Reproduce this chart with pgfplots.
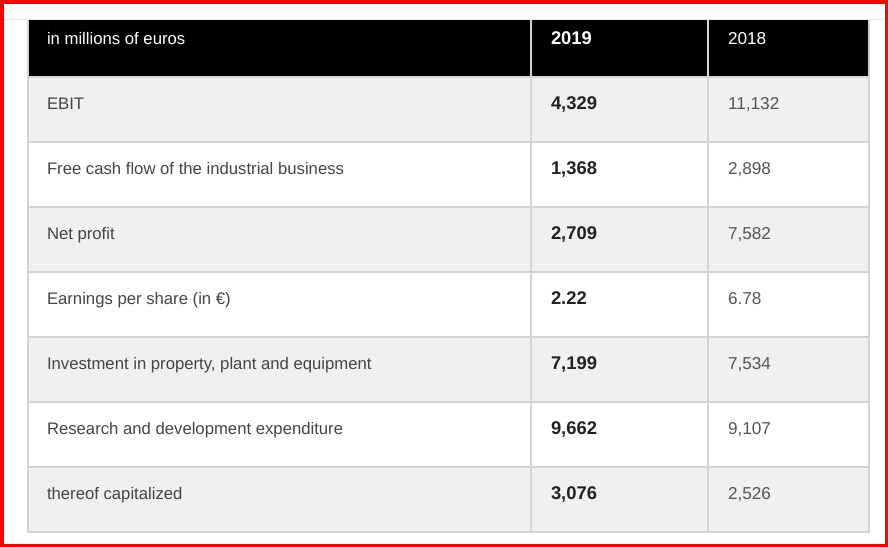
\documentclass[border=0pt]{standalone}
\usepackage{pgfplots}
\pgfplotsset{compat=1.18}
\usepackage{pgfplotstable}
\usepackage{fontspec}
\setmainfont{Liberation Sans}
\definecolor{rowgray}{HTML}{F0F0F0}
\definecolor{gridgray}{HTML}{D4D4D4}
\definecolor{labelgray}{HTML}{444444}
\definecolor{oldgray}{HTML}{555555}
\definecolor{numdark}{HTML}{222222}
\definecolor{topline}{HTML}{E6EAEF}
\definecolor{frame}{HTML}{FF0000}

% row baselines (pixel units from top), labels and values
\pgfplotstableread[col sep=semicolon]{
y;label;v2019;v2018
109;EBIT;4,329;11,132
174.2;Free cash flow of the industrial business;1,368;2,898
239.3;Net profit;2,709;7,582
304.4;Earnings per share (in €);2.22;6.78
369.5;Investment in property, plant and equipment;7,199;7,534
434.6;Research and development expenditure;9,662;9,107
499.7;thereof capitalized;3,076;2,526
}\bodytbl
\pgfplotstableread[col sep=semicolon]{
x;y;label
47;44;in millions of euros
}\headlabel
\pgfplotstableread[col sep=semicolon]{
x;y;label
551;44;2019
}\headA
\pgfplotstableread[col sep=semicolon]{
x;y;label
728;44;2018
}\headB

\begin{document}
\begin{tikzpicture}
\begin{axis}[
  width=888pt, height=547pt, scale only axis,
  xmin=0, xmax=888, ymin=0, ymax=547, y dir=reverse,
  hide axis, clip=false,
  nodes near coords align={anchor=base west},
  every node near coord/.append style={anchor=base west, inner sep=0pt, outer sep=0pt},
]
% frame and top line
\addplot[draw=topline, line width=1.5pt] coordinates {(3,19.5) (885,19.5)};
% header background
\addplot[fill=black, draw=none] coordinates {(28,20) (869,20) (869,76.5) (28,76.5)} -- cycle;
% shaded rows
\addplot[fill=rowgray, draw=none] coordinates {(28,76.5) (869,76.5) (869,141.7) (28,141.7)} -- cycle;
\addplot[fill=rowgray, draw=none] coordinates {(28,206.8) (869,206.8) (869,271.9) (28,271.9)} -- cycle;
\addplot[fill=rowgray, draw=none] coordinates {(28,337) (869,337) (869,402.1) (28,402.1)} -- cycle;
\addplot[fill=rowgray, draw=none] coordinates {(28,467.2) (869,467.2) (869,532.3) (28,532.3)} -- cycle;
% horizontal grid lines
\foreach \yy in {76.5,141.7,206.8,271.9,337,402.1,467.2,532.3}{
  \edef\tmp{\noexpand\addplot[draw=gridgray, line width=2pt, forget plot] coordinates {(27,\yy) (870,\yy)};}\tmp
}
% vertical grid lines
\foreach \xx in {28,531,708,869}{
  \edef\tmp{\noexpand\addplot[draw=gridgray, line width=2pt, forget plot] coordinates {(\xx,20) (\xx,533.3)};}\tmp
}
% header texts
\addplot[draw=none, mark=none, nodes near coords, point meta=explicit symbolic,
  every node near coord/.append style={text=white, font=\fontsize{16.7}{20}\selectfont}]
  table[x=x, y=y, meta=label] {\headlabel};
\addplot[draw=none, mark=none, nodes near coords, point meta=explicit symbolic,
  every node near coord/.append style={text=white, font=\fontsize{18.4}{22}\selectfont\bfseries}]
  table[x=x, y=y, meta=label] {\headA};
\addplot[draw=none, mark=none, nodes near coords, point meta=explicit symbolic,
  every node near coord/.append style={text=white, font=\fontsize{17.2}{20}\selectfont}]
  table[x=x, y=y, meta=label] {\headB};
% body texts
\addplot[draw=none, mark=none, nodes near coords, point meta=explicit symbolic,
  every node near coord/.append style={text=labelgray, font=\fontsize{16.7}{20}\selectfont}]
  table[x expr=47, y=y, meta=label] {\bodytbl};
\addplot[draw=none, mark=none, nodes near coords, point meta=explicit symbolic,
  every node near coord/.append style={text=numdark, font=\fontsize{18.4}{22}\selectfont\bfseries}]
  table[x expr=551, y=y, meta=v2019] {\bodytbl};
\addplot[draw=none, mark=none, nodes near coords, point meta=explicit symbolic,
  every node near coord/.append style={text=oldgray, font=\fontsize{17.2}{20}\selectfont}]
  table[x expr=728, y=y, meta=v2018] {\bodytbl};
% red frame
\addplot[draw=frame, line width=3.5pt] coordinates {(1.75,1.75) (886.25,1.75) (886.25,545.25) (1.75,545.25)} -- cycle;
\end{axis}
\end{tikzpicture}
\end{document}
